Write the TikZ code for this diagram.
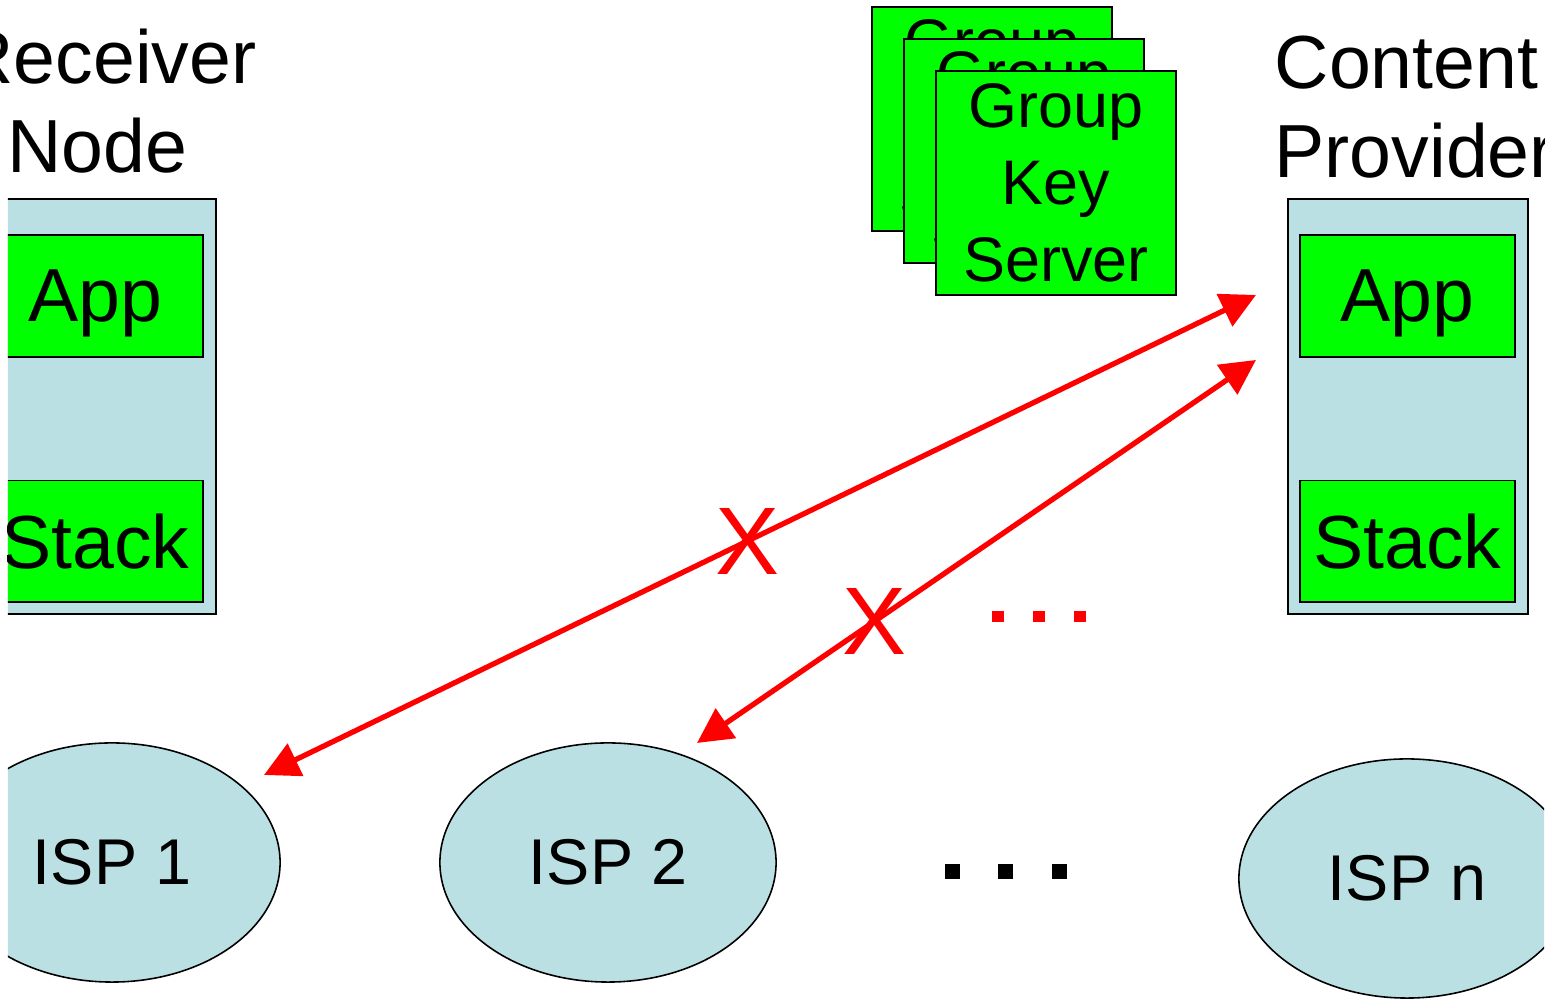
\documentclass[tikz,border=0pt]{standalone}
\usepackage{fontspec}
\setmainfont{Liberation Sans}
\usepackage{xcolor}
\usetikzlibrary{arrows.meta}
\usetikzlibrary{shapes.geometric}

\definecolor{hostblue}{RGB}{187,224,227}
\definecolor{layergreen}{RGB}{0,255,0}

\newcommand{\hostfont}{\fontsize{21.4}{25.3}\selectfont}
\newcommand{\gksfont}{\fontsize{17.9}{21.8}\selectfont}
\newcommand{\ispfont}{\fontsize{18.4}{22}\selectfont}
\newcommand{\crossmarkfont}{\fontsize{27.3}{30}\selectfont}

\begin{document}
\begin{tikzpicture}[x=0.01cm, y=-0.01cm,
  host/.style={draw=black, line width=0.6pt, fill=hostblue,
    minimum width=2.4cm, minimum height=4.15cm, inner sep=0pt},
  layer/.style={draw=black, line width=0.45pt, fill=layergreen,
    minimum width=2.15cm, minimum height=1.215cm, inner sep=0pt,
    text depth=0pt, font=\hostfont},
  keybox/.style={draw=black, line width=0.6pt, fill=layergreen,
    minimum width=2.4cm, minimum height=2.24cm, inner sep=0pt,
    align=center, font=\gksfont},
  isp/.style={ellipse, draw=black, line width=0.45pt, fill=hostblue,
    minimum width=3.36cm, minimum height=2.39cm, inner sep=0pt, font=\ispfont},
  link/.style={draw=red, line width=1.5pt,
    {Triangle[length=0.35cm,width=0.35cm]}-{Triangle[length=0.35cm,width=0.35cm]}},
  cross/.style={text=red, font=\crossmarkfont, inner sep=0pt},
  title/.style={font=\hostfont, inner sep=0pt}]

  \useasboundingbox (0,0) rectangle (1559,1004);

  % arrow ends
  \coordinate (CPA) at (1256,295);
  \coordinate (IA)  at (264,775);
  \coordinate (CPB) at (1256,360);
  \coordinate (IB)  at (697,743);

  \node[title, align=center, anchor=north] (recvtxt) at (108,28) {Receiver\\Node\hspace*{0.28em}};

  \begin{scope}
    \clip (8,0) rectangle (1544,1004);

    \node[host] (recv) at (96,406.5) {};
    \node[layer] (recvapp) at (95.5,296) {App};
    \node[layer] (recvstack) at (95.5,541.5) {Stack};

    \node[host] (prov) at (1408,406.5) {};
    \node[layer] (provapp) at (1407.5,296) {App};
    \node[layer] (provstack) at (1407.5,541.5) {Stack};
    \node[title, align=left, anchor=north west] (provtxt) at (1274,35) {Content\\Provider};

    \foreach \k in {0,1,2}
      \node[keybox] (gks\k) at (992+32*\k,119+32*\k) {Group\\Key\\Server};

    \node[isp] (isp1) at (112,862.5) {ISP 1};
    \node[isp] (isp2) at (608,862.5) {ISP 2};
    \node[isp] (ispn) at (1407,878.5) {ISP n};

    \foreach \dx in {952.5,1005.5,1059.5}
      \fill[black] (\dx-7.5,864) rectangle ++(15,15);
    \foreach \dx in {998,1039,1080}
      \fill[red] (\dx-6,611) rectangle ++(12,11);

    \draw[link] (IA) -- node[cross, pos=0.487] (xa) {X} (CPA);
    \draw[link] (IB) -- node[cross, pos=0.318] (xb) {X} (CPB);
  \end{scope}

\end{tikzpicture}
\end{document}
